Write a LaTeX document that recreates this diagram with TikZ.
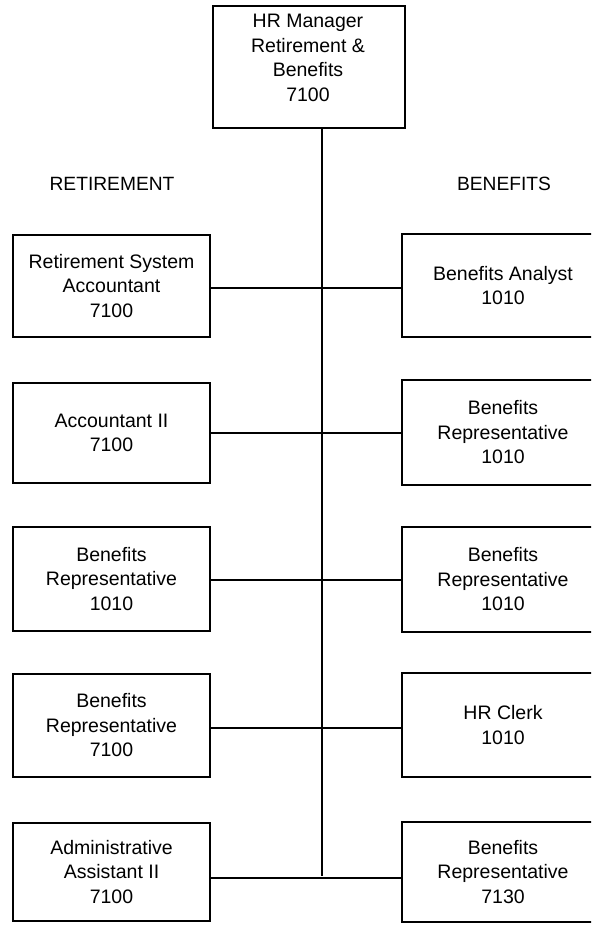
\documentclass[tikz,border=0pt]{standalone}
\usepackage{fontspec}
\setmainfont{Liberation Sans}
\begin{document}
\begin{tikzpicture}[x=1pt,y=-1pt,
  box/.style={draw=black,line width=2.4pt,rectangle,inner sep=0pt,align=center,
    font=\fontsize{19.5}{24.5}\selectfont},
  lbox/.style={box,minimum width=197pt},
  rbox/.style={box,minimum width=202pt},
  conn/.style={draw=black,line width=1.3pt},
  head/.style={font=\fontsize{19.2}{24}\selectfont}]
\useasboundingbox (0,0) rectangle (591,925);
\clip (0,0) rectangle (591,925);
\fill[white] (0,0) rectangle (591,925);

% top box
\node[box,minimum width=192pt,minimum height=122pt] (hr) at (309,67) {};
\node[font=\fontsize{19.5}{24.5}\selectfont,align=center] (hrtext) at (308,58)
  {HR Manager\\Retirement \&\\Benefits\\7100};

% headings
\node[head] (ret) at (112,184) {RETIREMENT};
\node[head] (ben) at (504,184) {BENEFITS};

% left boxes
\node[lbox,minimum height=102pt] (l1) at (111.5,286) {Retirement System\\Accountant\\7100};
\node[lbox,minimum height=100pt] (l2) at (111.5,433) {Accountant II\\7100};
\node[lbox,minimum height=104pt] (l3) at (111.5,579) {Benefits\\Representative\\1010};
\node[lbox,minimum height=103pt] (l4) at (111.5,725.5) {Benefits\\Representative\\7100};
\node[lbox,minimum height=98pt] (l5) at (111.5,872) {Administrative\\Assistant II\\7100};

% right boxes
\node[rbox,minimum height=103pt] (r1) at (503,285.5) {Benefits Analyst\\1010};
\node[rbox,minimum height=105pt] (r2) at (503,432.5) {Benefits\\Representative\\1010};
\node[rbox,minimum height=105pt] (r3) at (503,579.5) {Benefits\\Representative\\1010};
\node[rbox,minimum height=104pt] (r4) at (503,725) {HR Clerk\\1010};
\node[rbox,minimum height=100pt] (r5) at (503,872) {Benefits\\Representative\\7130};

% trunk
\coordinate (trunk) at (322,876);
\draw[conn,line width=1.5pt] (hr.south -| trunk) -- (trunk);

% branches
\draw[conn] ([yshift=-2pt]l1.east) -- ([yshift=-2pt]l1.east -| r1.west);
\draw[conn] (l2.east) -- (l2.east -| r2.west);
\draw[conn] ([yshift=-1pt]l3.east) -- ([yshift=-1pt]l3.east -| r3.west);
\draw[conn] ([yshift=-2.5pt]l4.east) -- ([yshift=-2.5pt]l4.east -| r4.west);
\draw[conn] ([yshift=-6pt]l5.east) -- ([yshift=-6pt]l5.east -| r5.west);
\end{tikzpicture}
\end{document}
